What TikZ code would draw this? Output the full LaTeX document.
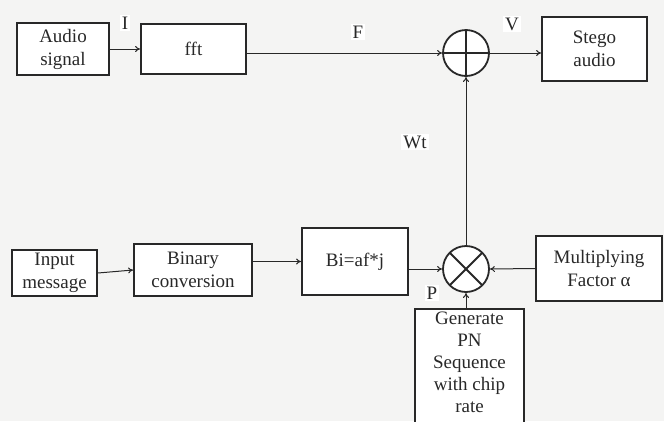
\documentclass[tikz,border=0pt]{standalone}
\usepackage{fontspec}
\setmainfont{Liberation Serif}
\usepackage{tikz}
\usetikzlibrary{arrows.meta,positioning}
\definecolor{bgpaper}{RGB}{244,244,243}
\definecolor{inkline}{RGB}{40,40,40}

\begin{document}
\begin{tikzpicture}[
  x=1pt, y=-1pt,
  every node/.style={font=\fontsize{19}{23}\selectfont, text=inkline},
  box/.style={draw=inkline, line width=1.8pt, fill=white, align=center, inner sep=0pt},
  opnode/.style={draw=inkline, line width=1.8pt, circle, minimum size=46pt, inner sep=0pt, fill=white},
  arrow/.style={-{To[length=5pt,width=6pt]}, line width=1pt, draw=inkline},
  sig/.style={fill=white, inner sep=2pt}
]
\fill[bgpaper] (0,0) rectangle (664,421);
\useasboundingbox (0,0) rectangle (664,421);

\node[box, minimum width=92pt, minimum height=52pt] (audio) at (63,49) {Audio\\signal};
\node[box, minimum width=105pt, minimum height=50pt] (fft) at (193.5,49) {fft};
\node[opnode, path picture={
  \draw[line width=1.8pt, inkline] (path picture bounding box.north) -- (path picture bounding box.south);
  \draw[line width=1.8pt, inkline] (path picture bounding box.west) -- (path picture bounding box.east);}] (sum) at (466,53) {};
\node[box, minimum width=105pt, minimum height=64pt] (stego) at (594.5,49) {Stego\\audio};

\node[box, minimum width=85pt, minimum height=46pt] (input) at (54.5,273) {Input\\message};
\node[box, minimum width=118pt, minimum height=52pt] (binary) at (193,270) {Binary\\conversion};
\node[box, minimum width=106pt, minimum height=67pt] (bits) at (355,261.5) {Bi=af*j};
\node[opnode, path picture={
  \draw[line width=1.8pt, inkline] (path picture bounding box.north west) -- (path picture bounding box.south east);
  \draw[line width=1.8pt, inkline] (path picture bounding box.north east) -- (path picture bounding box.south west);}] (mult) at (466,269) {};
\node[box, minimum width=126pt, minimum height=65pt] (factor) at (599,268.5) {Multiplying\\Factor α};
\node[box, minimum width=109pt, anchor=north, inner ysep=3pt, text depth=24pt,
  font=\fontsize{19}{22}\selectfont] (pn) at (469.5,308) {Generate\\PN\\Sequence\\with chip\\rate};

% top row
\draw[arrow] (audio.east) -- (fft.west);
\draw[arrow] (fft.east |- sum.west) -- (sum.west);
\draw[arrow] (sum.east) -- (stego.west |- sum.east);
\draw[arrow] (mult.north) -- (sum.south);

% bottom row
\draw[arrow] (input.east) -- (binary.west);
\draw[arrow] (binary.east |- bits.west) -- (bits.west);
\draw[arrow] (bits.east |- mult.west) -- (mult.west);
\draw[arrow] (factor.west) -- (mult.east);
\draw[arrow] (mult.south |- pn.north) -- (mult.south);

% signal names
\node[sig] (lblI) at (125,23) {I};
\node[sig] (lblF) at (358,32) {F};
\node[sig] (lblV) at (512,24) {V};
\node[sig] (lblW) at (415,142) {Wt};
\node[sig] (lblP) at (432,293) {P};
\end{tikzpicture}
\end{document}
